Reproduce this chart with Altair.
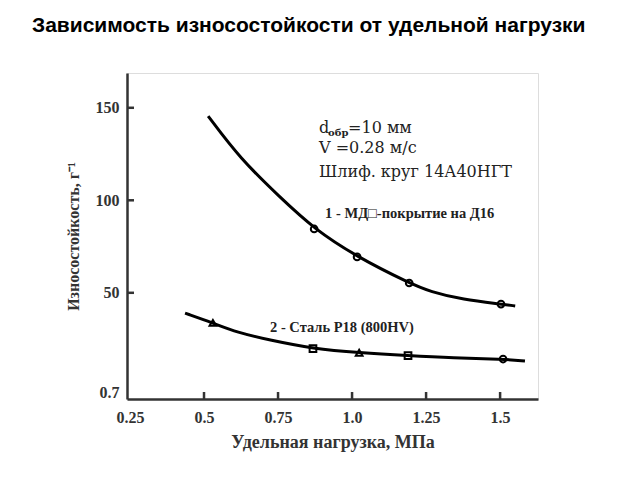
import altair as alt
import pandas as pd

# ---- data ----
# curve 1: МДО-покрытие на Д16
c1_x = [0.514, 0.622, 0.757, 0.872, 1.017, 1.193, 1.264, 1.375, 1.503, 1.551]
c1_y = [145.5, 122.5, 101.6, 84.5, 69.4, 55.3, 50.6, 46.3, 43.9, 42.9]
# curve 2: Сталь Р18 (800HV)
c2_x = [0.436, 0.530, 0.611, 0.723, 0.868, 1.024, 1.189, 1.341, 1.510, 1.584]
c2_y = [39.0, 33.7, 28.6, 24.4, 19.8, 17.6, 16.0, 14.8, 14.2, 13.1]

# measured points (markers)
m_x = [0.872, 1.017, 1.193, 1.503, 0.530, 0.868, 1.024, 1.189, 1.510]
m_y = [84.5, 69.4, 55.3, 43.9, 33.7, 19.8, 17.6, 16.0, 14.2]
m_shape = ["circle", "circle", "circle", "circle",
           "triangle-up", "square", "triangle-up", "square", "circle"]

x_ticks = [0.25, 0.5, 0.75, 1.0, 1.25, 1.5]
y_ticks = [-4, 50, 100, 150]          # bottom value is labelled "0.7"
x_tick_marks = [0.5, 0.75, 1.0, 1.25, 1.5]
y_tick_marks = [50, 100, 150]

note_lines = ["V =0.28 м/с", "Шлиф. круг 14А40НГТ"]
note_y = [125.6, 112.6]
note_x = 0.8885
d_y = 136.4

lab_text = ["1 - МД□-покрытие на Д16", "2 - Сталь Р18 (800HV)"]
lab_x = [0.909, 0.723]
lab_y = [90.4, 28.9]

W, H = 411, 326
SERIF = "Liberation Serif"
NOTEF = "DejaVu Serif"

xs = alt.Scale(domain=[0.2399, 1.628], nice=False, zero=False)
ys = alt.Scale(domain=[-7.4, 168.8], nice=False, zero=False)

curves = pd.DataFrame({
    "x": c1_x + c2_x,
    "y": c1_y + c2_y,
    "s": ["1"] * len(c1_x) + ["2"] * len(c2_x),
})
marks = pd.DataFrame({"x": m_x, "y": m_y, "shape": m_shape})

xaxis = alt.Axis(values=x_ticks, format=".2~f",
                 labelExpr="datum.value == 1 ? '1.0' : datum.label",
                 tickSize=0, grid=False, domainColor="#333", domainWidth=2.5,
                 labelFont=SERIF, labelFontSize=16, labelFontWeight="bold",
                 labelColor="#333", labelPadding=10,
                 title="Удельная нагрузка, МПа", titleFont=SERIF, titleFontSize=18,
                 titleFontWeight="bold", titleColor="#333", titleY=48,
                 titleBaseline="alphabetic")
yaxis = alt.Axis(values=y_ticks, format="d",
                 labelExpr="datum.value < 0 ? '0.7' : datum.label",
                 tickSize=0, grid=False, domainColor="#333", domainWidth=2.5,
                 labelFont=SERIF, labelFontSize=16, labelFontWeight="bold",
                 labelColor="#333", labelPadding=8,
                 title="Износостойкость, г⁻¹", titleFont=SERIF, titleFontSize=16,
                 titleFontWeight="bold", titleColor="#333", titleX=-54, titleY=163,
                 titleAngle=-90, titleBaseline="middle", titleAlign="center")

lines = alt.Chart(curves).mark_line(interpolate="basis", strokeWidth=3, color="black").encode(
    x=alt.X("x:Q", scale=xs, axis=xaxis),
    y=alt.Y("y:Q", scale=ys, axis=yaxis),
    detail="s:N",
)

pts = alt.Chart(marks).mark_point(filled=False, strokeWidth=2, size=45, color="black", opacity=1).encode(
    x=alt.X("x:Q", scale=xs),
    y=alt.Y("y:Q", scale=ys),
    shape=alt.Shape("shape:N", scale=None),
)

xt = alt.Chart(pd.DataFrame({"t": x_tick_marks})).mark_rule(color="#333", strokeWidth=2.5).encode(
    x=alt.X("t:Q", scale=xs), y=alt.value(H), y2=alt.value(H - 7))
yt = alt.Chart(pd.DataFrame({"t": y_tick_marks})).mark_rule(color="#333", strokeWidth=2.5).encode(
    y=alt.Y("t:Q", scale=ys), x=alt.value(0), x2=alt.value(7))

notes = alt.Chart(pd.DataFrame({"x": [note_x] * 2, "y": note_y, "t": note_lines})).mark_text(
    align="left", baseline="alphabetic", font=NOTEF, fontSize=16, color="#222").encode(
    x=alt.X("x:Q", scale=xs), y=alt.Y("y:Q", scale=ys), text="t:N")
d_main = alt.Chart(pd.DataFrame({"x": [note_x], "y": [d_y], "t": ["d"]})).mark_text(
    align="left", baseline="alphabetic", font=NOTEF, fontSize=16, color="#222").encode(
    x=alt.X("x:Q", scale=xs), y=alt.Y("y:Q", scale=ys), text="t:N")
d_sub = alt.Chart(pd.DataFrame({"x": [note_x], "y": [d_y], "t": ["обр"]})).mark_text(
    align="left", baseline="alphabetic", font=NOTEF, fontSize=10, fontWeight="bold",
    color="#222", dx=9, dy=3).encode(
    x=alt.X("x:Q", scale=xs), y=alt.Y("y:Q", scale=ys), text="t:N")
d_rest = alt.Chart(pd.DataFrame({"x": [note_x], "y": [d_y], "t": ["=10 мм"]})).mark_text(
    align="left", baseline="alphabetic", font=NOTEF, fontSize=16, color="#222", dx=29).encode(
    x=alt.X("x:Q", scale=xs), y=alt.Y("y:Q", scale=ys), text="t:N")

labels = alt.Chart(pd.DataFrame({"x": lab_x, "y": lab_y, "t": lab_text})).mark_text(
    align="left", baseline="alphabetic", font=SERIF, fontSize=14.5, fontWeight="bold", color="#222").encode(
    x=alt.X("x:Q", scale=xs), y=alt.Y("y:Q", scale=ys), text="t:N")

chart = alt.layer(lines, pts, xt, yt, notes, d_main, d_sub, d_rest, labels).properties(
    width=W, height=H,
    autosize=alt.AutoSizeParams(type="none"),
    padding={"left": 119, "top": 65, "right": 90, "bottom": 60},
    title=alt.TitleParams("Зависимость износостойкости от удельной нагрузки",
                          font="Liberation Sans", fontSize=21, fontWeight="bold",
                          color="black", anchor="start", frame="group", dx=-95,
                          offset=20, baseline="alphabetic"),
).configure_view(stroke=None).configure(background="white")

chart.save("out.html", embed_options={"renderer": "svg", "actions": False})
